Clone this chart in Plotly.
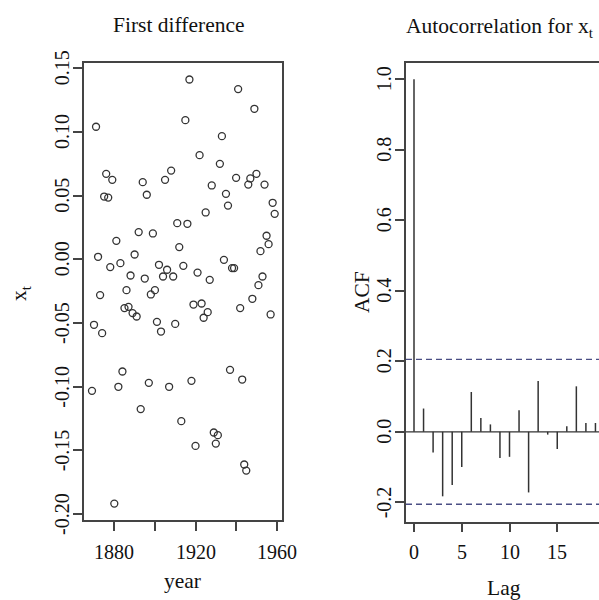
import plotly.graph_objects as go

# ---- data ----
years = list(range(1869, 1960))
diff_values = [
    -0.1033, -0.0514, 0.1041, 0.0020, -0.0281, -0.0580, 0.0493, 0.0671, 0.0485, -0.0061,
    0.0624, -0.1918, 0.0145, -0.1001, -0.0030, -0.0881, -0.0383, -0.0242, -0.0373, -0.0127,
    -0.0422, 0.0038, -0.0449, 0.0214, -0.1176, 0.0606, -0.0151, 0.0507, -0.0970, -0.0276,
    0.0203, -0.0242, -0.0491, -0.0043, -0.0567, -0.0135, 0.0624, -0.0082, -0.1001, 0.0697,
    -0.0135, -0.0507, 0.0284, 0.0096, -0.1271, -0.0051, 0.1093, 0.0279, 0.1412, -0.0954,
    -0.0355, -0.1465, -0.0104, 0.0818, -0.0347, -0.0459, 0.0368, -0.0415, -0.0161, 0.0580,
    -0.1360, -0.1447, -0.1381, 0.0750, 0.0967, -0.0004, 0.0514, 0.0422, -0.0868, -0.0069,
    -0.0069, 0.0640, 0.1337, -0.0383, -0.0944, -0.1611, -0.1659, 0.0587, 0.0635, -0.0310,
    0.1182, 0.0671, -0.0203, 0.0064, -0.0135, 0.0587, 0.0185, 0.0119, -0.0433, 0.0444,
    0.0357,
]
lags = list(range(0, 20))
acf_values = [1.000, 0.066, -0.059, -0.183, -0.151, -0.100, 0.113, 0.039, 0.021, -0.074,
              -0.071, 0.061, -0.172, 0.144, -0.008, -0.049, 0.016, 0.129, 0.025, 0.025]
ci_bound = 0.2055

left_yticks = [-0.20, -0.15, -0.10, -0.05, 0.00, 0.05, 0.10, 0.15]
left_yticklabels = ["-0.20", "-0.15", "-0.10", "-0.05", "0.00", "0.05", "0.10", "0.15"]
left_xticks = [1880, 1900, 1920, 1940, 1960]
left_xlabeled = [1880, 1920, 1960]
left_xticklabels = ["1880", "1920", "1960"]
right_yticks = [-0.2, 0.0, 0.2, 0.4, 0.6, 0.8, 1.0]
right_yticklabels = ["-0.2", "0.0", "0.2", "0.4", "0.6", "0.8", "1.0"]
right_xticks = [0, 5, 10, 15]
right_xticklabels = ["0", "5", "10", "15"]

FONT = "Liberation Serif, Times New Roman, serif"
LINE = "#444444"
TXT = "#111111"
W, H = 599, 600
OFF = 0  # body margin removed by post_script below
TICKSZ = 20
TITLESZ = 21.5


def PX(p):
    return (p - OFF) / W


def PY(p):
    return 1 - (p - OFF) / H


fig = go.Figure()

fig.add_trace(go.Scatter(
    x=years, y=diff_values, mode="markers",
    marker=dict(symbol="circle-open", size=7, color="#333333", line=dict(width=1.3)),
    xaxis="x", yaxis="y", showlegend=False, cliponaxis=False,
))

# ACF spikes
sx, sy = [], []
for l, v in zip(lags, acf_values):
    sx += [l, l, None]
    sy += [0, v, None]
fig.add_trace(go.Scatter(
    x=sx, y=sy, mode="lines", line=dict(color="#333333", width=1.5),
    xaxis="x2", yaxis="y2", showlegend=False,
))

# zero line and confidence bounds
fig.add_shape(type="line", xref="x2 domain", yref="y2", x0=0, x1=1, y0=0, y1=0,
              line=dict(color="#333333", width=1.3))
for c in (ci_bound, -ci_bound):
    fig.add_shape(type="line", xref="x2 domain", yref="y2", x0=0, x1=1, y0=c, y1=c,
                  line=dict(color="#4a4e84", width=1.3, dash="6px,4px"))

axis_common = dict(showline=True, linecolor=LINE, linewidth=1.5, ticks="outside",
                   ticklen=9, tickwidth=1.5, tickcolor=LINE, showgrid=False,
                   zeroline=False, showticklabels=False, automargin=False)

fig.update_layout(
    width=W, height=H, margin=dict(l=0, r=0, t=0, b=0, autoexpand=False),
    paper_bgcolor="white", plot_bgcolor="white",
    xaxis=dict(domain=[PX(84), PX(281.7)], range=[1865.07, 1962.46], anchor="y",
               tickvals=left_xticks, mirror=True, **axis_common),
    yaxis=dict(domain=[PY(520), PY(62.7)], range=[-0.2047, 0.1544], anchor="x",
               tickvals=left_yticks, mirror=True, **axis_common),
    xaxis2=dict(domain=[PX(406), PX(599)], range=[(406 - 414) / 9.55, (599 - 414) / 9.55],
                anchor="y2", tickvals=right_xticks, mirror=True, **axis_common),
    yaxis2=dict(domain=[PY(521.7), PY(62.7)], range=[-0.255, 1.047], anchor="x2",
                tickvals=right_yticks, mirror=False, **axis_common),
)


def ann(text, x, y, size=TICKSZ, angle=0, xref="paper", yref="paper"):
    xv = PX(x) if xref == "paper" else x
    yv = PY(y) if yref == "paper" else y
    fig.add_annotation(text=text, x=xv, y=yv, xref=xref, yref=yref,
                       showarrow=False, textangle=angle,
                       font=dict(family=FONT, size=size, color=TXT),
                       xanchor="center", yanchor="middle")


# tick labels
for v, t in zip(left_yticks, left_yticklabels):
    ann(t, 62, v, angle=-90, yref="y")
for v, t in zip(right_yticks, right_yticklabels):
    ann(t, 384, v, angle=-90, yref="y2")
for v, t in zip(left_xlabeled, left_xticklabels):
    ann(t, v, 552, xref="x")
for v, t in zip(right_xticks, right_xticklabels):
    ann(t, v, 552, xref="x2")

# titles and axis labels
ann("First difference", 179, 25, size=TITLESZ)
ann("Autocorrelation for x<sub>t</sub>", 500, 27, size=TITLESZ)
ann("year", 182, 581, size=TITLESZ)
ann("Lag", 504, 588, size=TITLESZ)
ann("x<sub>t</sub>", 20, 293, size=TITLESZ, angle=-90)
ann("ACF", 362, 292, size=TITLESZ, angle=-90)

fig.write_html("out.html", config={"displayModeBar": False},
               post_script="document.body.style.margin='0';")
